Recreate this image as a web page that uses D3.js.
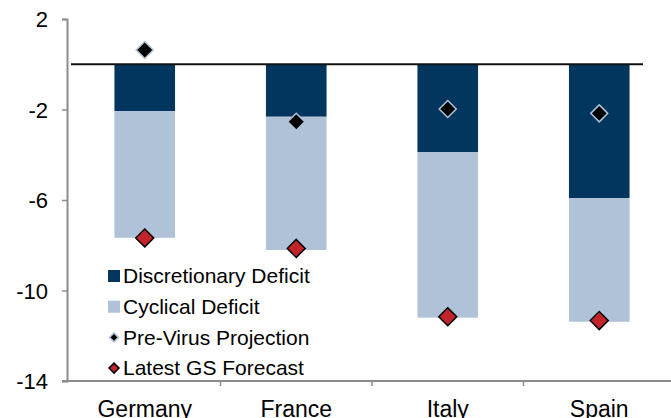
<!DOCTYPE html>
<html>
<head>
<meta charset="utf-8">
<script src="https://cdn.jsdelivr.net/npm/d3@7"></script>
<style>
  body { margin: 0; background: #fff; }
  svg { display: block; font-family: "Liberation Sans", Arial, sans-serif; }
</style>
</head>
<body>
<div id="chart"></div>
<script>
// Data
var countries = ["Germany", "France", "Italy", "Spain"];
var discretionary = [-2.07, -2.32, -3.89, -5.92];
var cyclical = [-5.6, -5.89, -7.31, -5.46];
var preVirus = [0.63, -2.54, -1.98, -2.17];
var latest = [-7.68, -8.14, -11.16, -11.33];
var yTicks = [2, -2, -6, -10, -14];
var legendLabels = ["Discretionary Deficit", "Cyclical Deficit", "Pre-Virus Projection", "Latest GS Forecast"];

var w = 671;
var h = 418;
var navy = "#02365f";
var light = "#b0c2d7";
var red = "#c1242b";

var svg = d3.select("#chart")
  .append("svg")
  .attr("width", w)
  .attr("height", h);

// Scales
var xScale = d3.scaleBand()
  .domain(countries)
  .range([69, 675]);

var yScale = d3.scaleLinear()
  .domain([-14, 2])
  .range([381, 19]);

var barW = xScale.bandwidth() * 0.4;

// Y axis (plain hyphen for negatives, like the original)
var yAxis = d3.axisLeft(yScale)
  .tickValues(yTicks)
  .tickSize(5)
  .tickPadding(14)
  .tickFormat(function(d) { return String(d); });

var gy = svg.append("g")
  .attr("transform", "translate(67,0)")
  .call(yAxis);
gy.select(".domain").attr("stroke", "#8c8c8c").attr("stroke-width", 2);
gy.selectAll(".tick line").attr("stroke", "#8c8c8c").attr("stroke-width", 1.5);
gy.selectAll(".tick text")
  .attr("fill", "#000")
  .style("font-size", "22px")
  .attr("dy", "0.36em");

// X axis (category ticks sit between bands)
svg.append("line")
  .attr("x1", 62).attr("x2", w)
  .attr("y1", yScale(-14)).attr("y2", yScale(-14))
  .attr("stroke", "#8c8c8c")
  .attr("stroke-width", 2);

svg.selectAll(".xtick")
  .data(countries.slice(1))
  .enter().append("line")
  .attr("class", "xtick")
  .attr("x1", function(d) { return xScale(d); })
  .attr("x2", function(d) { return xScale(d); })
  .attr("y1", yScale(-14))
  .attr("y2", yScale(-14) + 5)
  .attr("stroke", "#8c8c8c")
  .attr("stroke-width", 1.5);

svg.selectAll(".xlabel")
  .data(countries)
  .enter().append("text")
  .attr("class", "xlabel")
  .attr("x", function(d) { return xScale(d) + xScale.bandwidth() / 2; })
  .attr("y", 417)
  .attr("text-anchor", "middle")
  .style("font-size", "23px")
  .text(function(d) { return d; });

// Stacked bars
var groups = svg.selectAll(".country")
  .data(countries)
  .enter().append("g")
  .attr("class", "country");

groups.append("rect")
  .attr("x", function(d) { return xScale(d) + (xScale.bandwidth() - barW) / 2; })
  .attr("width", barW)
  .attr("y", yScale(0))
  .attr("height", function(d, i) { return yScale(discretionary[i]) - yScale(0); })
  .attr("fill", navy);

groups.append("rect")
  .attr("x", function(d) { return xScale(d) + (xScale.bandwidth() - barW) / 2; })
  .attr("width", barW)
  .attr("y", function(d, i) { return yScale(discretionary[i]); })
  .attr("height", function(d, i) {
    return yScale(discretionary[i] + cyclical[i]) - yScale(discretionary[i]);
  })
  .attr("fill", light);

// Zero line
svg.append("line")
  .attr("x1", 71).attr("x2", 643)
  .attr("y1", yScale(0)).attr("y2", yScale(0))
  .attr("stroke", "#111")
  .attr("stroke-width", 2);

// Diamond markers
function diamond(r) {
  return "M0," + (-r) + "L" + r + ",0L0," + r + "L" + (-r) + ",0Z";
}

svg.selectAll(".pre")
  .data(countries)
  .enter().append("path")
  .attr("class", "pre")
  .attr("d", diamond(8.5))
  .attr("transform", function(d, i) {
    return "translate(" + (xScale(d) + xScale.bandwidth() / 2) + "," + yScale(preVirus[i]) + ")";
  })
  .attr("fill", "#000")
  .attr("stroke", light)
  .attr("stroke-width", 1.5);

svg.selectAll(".latest")
  .data(countries)
  .enter().append("path")
  .attr("class", "latest")
  .attr("d", diamond(9))
  .attr("transform", function(d, i) {
    return "translate(" + (xScale(d) + xScale.bandwidth() / 2) + "," + yScale(latest[i]) + ")";
  })
  .attr("fill", red)
  .attr("stroke", "#000")
  .attr("stroke-width", 1.5);

// Legend
var legend = svg.append("g")
  .attr("transform", "translate(108,276)");

var rowH = 30.7;

legend.selectAll("text")
  .data(legendLabels)
  .enter().append("text")
  .attr("x", 15)
  .attr("y", function(d, i) { return i * rowH; })
  .attr("dy", "0.35em")
  .style("font-size", "21px")
  .text(function(d) { return d; });

legend.append("rect")
  .attr("x", 0).attr("y", -6)
  .attr("width", 12).attr("height", 12)
  .attr("fill", navy);

legend.append("rect")
  .attr("x", 0).attr("y", rowH - 6)
  .attr("width", 12).attr("height", 12)
  .attr("fill", light);

legend.append("path")
  .attr("d", diamond(4.5))
  .attr("transform", "translate(6," + (2 * rowH) + ")")
  .attr("fill", "#000")
  .attr("stroke", light)
  .attr("stroke-width", 1.5);

legend.append("path")
  .attr("d", diamond(5))
  .attr("transform", "translate(6," + (3 * rowH) + ")")
  .attr("fill", red)
  .attr("stroke", "#000")
  .attr("stroke-width", 1.5);
</script>
</body>
</html>
